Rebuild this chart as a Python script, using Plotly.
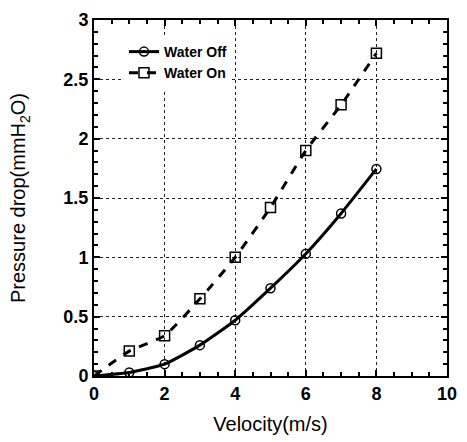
import plotly.graph_objects as go

velocity = [0, 1, 2, 3, 4, 5, 6, 7, 8]
water_off = [0.0, 0.03, 0.10, 0.26, 0.47, 0.74, 1.03, 1.37, 1.745]
water_on = [0.0, 0.21, 0.34, 0.65, 1.00, 1.42, 1.90, 2.285, 2.72]

x_tick_vals = [0, 2, 4, 6, 8, 10]
x_tick_text = ["0", "2", "4", "6", "8", "10"]
y_tick_vals = [0, 0.5, 1, 1.5, 2, 2.5, 3]
y_tick_text = ["0", "0.5", "1", "1.5", "2", "2.5", "3"]

fig = go.Figure()
fig.add_trace(go.Scatter(
    x=velocity, y=water_off, name="<b>Water Off</b>", mode="lines+markers",
    line=dict(color="black", width=3, shape="spline", smoothing=0.5),
    marker=dict(symbol="circle-open", size=9, color="black", line=dict(width=1.5)),
))
fig.add_trace(go.Scatter(
    x=velocity, y=water_on, name="<b>Water On</b>", mode="lines+markers",
    line=dict(color="black", width=3, dash="dash", shape="spline", smoothing=0.5),
    marker=dict(symbol="square-open", size=10, color="black", line=dict(width=1.5)),
))

axis_common = dict(
    showline=True, linecolor="black", linewidth=2, mirror="ticks",
    ticks="inside", ticklen=6, tickwidth=1.5, tickcolor="black",
    showgrid=True, gridcolor="#222222", gridwidth=1, griddash="dot",
    zeroline=False,
    tickfont=dict(family="Liberation Sans", size=18, color="black"),
)

fig.update_xaxes(
    range=[0, 10], tickmode="array", tickvals=x_tick_vals,
    ticktext=["<b>%s</b>" % t for t in x_tick_text], **axis_common,
    minor=dict(ticks="inside", dtick=0.5, tick0=0, ticklen=4, tickcolor="black", showgrid=False),
    title=dict(text="Velocity(m/s)", font=dict(family="Liberation Sans", size=20, color="black"), standoff=14),
)
fig.update_yaxes(
    range=[0, 3], tickmode="array", tickvals=y_tick_vals,
    ticktext=["<b>%s</b>" % t for t in y_tick_text], **axis_common,
    minor=dict(ticks="inside", dtick=0.1, tick0=0, ticklen=4, tickcolor="black", showgrid=False),
    title=dict(text="Pressure drop(mmH<sub>2</sub>O)", font=dict(family="Liberation Sans", size=20, color="black"), standoff=32),
)

fig.update_layout(
    width=467, height=442,
    margin=dict(l=94, r=10, t=15, b=64),
    plot_bgcolor="white", paper_bgcolor="white",
    legend=dict(
        x=0.085, y=0.955, xanchor="left", yanchor="top",
        bgcolor="white", borderwidth=0,
        font=dict(family="Liberation Sans", size=14, color="black"),
        tracegroupgap=0, itemwidth=30,
    ),
)

fig.write_html(
    "out.html",
    config={"displayModeBar": False},
    post_script="document.body.style.margin='0';document.body.style.overflow='hidden';",
)
